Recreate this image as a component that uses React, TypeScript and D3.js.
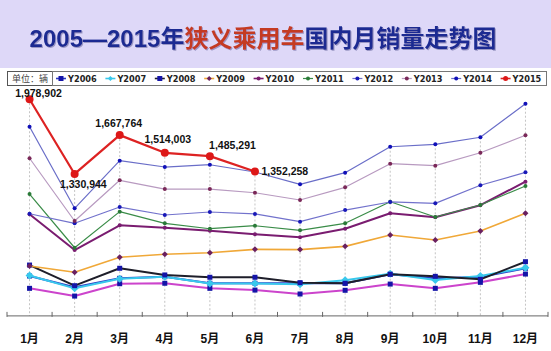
import React from "react";
import * as d3 from "d3";

const W = 551;
const H = 351;

const months = ["1月", "2月", "3月", "4月", "5月", "6月", "7月", "8月", "9月", "10月", "11月", "12月"];

const y2005 = [339000, 272000, 379000, 383000, 339000, 324000, 290000, 322000, 376000, 339000, 391000, 463000];
const y2006 = [446000, 348000, 426000, 440000, 383000, 383000, 383000, 383000, 461000, 426000, 437000, 513000];
const y2007 = [450000, 339000, 422000, 440000, 380000, 380000, 375000, 409000, 466000, 411000, 446000, 518000];
const y2008 = [541000, 362000, 513000, 455000, 435000, 435000, 388000, 383000, 461000, 443000, 417000, 570000];
const y2009 = [533000, 478000, 608000, 634000, 648000, 677000, 675000, 703000, 801000, 758000, 836000, 990000];
const y2010 = [981000, 671000, 886000, 865000, 839000, 808000, 782000, 856000, 990000, 955000, 1060000, 1264000];
const y2011 = [1157000, 691000, 1004000, 903000, 856000, 882000, 842000, 903000, 1090000, 958000, 1062000, 1227000];
const y2012 = [986000, 903000, 1044000, 975000, 1001000, 984000, 917000, 1018000, 1088000, 1076000, 1233000, 1345000];
const y2013 = [1467000, 923000, 1276000, 1200000, 1200000, 1168000, 1105000, 1215000, 1420000, 1403000, 1515000, 1666000];
const y2014 = [1741000, 1033000, 1446000, 1391000, 1411000, 1348000, 1241000, 1342000, 1567000, 1588000, 1649000, 1940000];
const y2015 = [1978902, 1330944, 1667764, 1514003, 1485291, 1352258];

const seriesNames = ["Y2005", "Y2006", "Y2007", "Y2008", "Y2009", "Y2010", "Y2011", "Y2012", "Y2013", "Y2014", "Y2015"];
const seriesValues = [y2005, y2006, y2007, y2008, y2009, y2010, y2011, y2012, y2013, y2014, y2015];
const legendNames = ["Y2006", "Y2007", "Y2008", "Y2009", "Y2010", "Y2011", "Y2012", "Y2013", "Y2014", "Y2015"];

const yDomain = [100000, 2000000];

type Style = { line: string; width: number; shape: "square" | "diamond" | "circle"; mk: string; size: number };
const styles: Record<string, Style> = {
  Y2005: { line: "#cc44cc", width: 2, shape: "square", mk: "#1414a8", size: 5 },
  Y2006: { line: "#2a38c4", width: 2, shape: "square", mk: "#1414a8", size: 5 },
  Y2007: { line: "#38c8ec", width: 2, shape: "diamond", mk: "#38c8ec", size: 8 },
  Y2008: { line: "#1e1e2a", width: 2, shape: "square", mk: "#1414a8", size: 5 },
  Y2009: { line: "#f0a838", width: 1.6, shape: "diamond", mk: "#6a2060", size: 6 },
  Y2010: { line: "#7a1c70", width: 2, shape: "circle", mk: "#7a1c70", size: 4 },
  Y2011: { line: "#3a8c48", width: 1.2, shape: "circle", mk: "#2a7a38", size: 4 },
  Y2012: { line: "#7272cc", width: 1.2, shape: "circle", mk: "#1818b8", size: 4 },
  Y2013: { line: "#b89ac0", width: 1.2, shape: "circle", mk: "#7a2858", size: 4 },
  Y2014: { line: "#6a6ec8", width: 1.2, shape: "circle", mk: "#1010b8", size: 4 },
  Y2015: { line: "#dd2222", width: 2.2, shape: "circle", mk: "#dd1818", size: 8 },
};

const labelDx = [9, 8.7, -1, 3, 22.6, 6.5];
const labelDy = [-2.6, 13.8, -8.6, -10, -7, 3.3];
const labelAnchor = ["middle", "middle", "middle", "middle", "middle", "start"];

function Marker({ x, y, s }: { x: number; y: number; s: Style }) {
  const h = s.size / 2;
  if (s.shape === "square") return <rect x={x - h} y={y - h} width={s.size} height={s.size} fill={s.mk} />;
  if (s.shape === "diamond")
    return <path d={`M${x},${y - h}L${x + h},${y}L${x},${y + h}L${x - h},${y}Z`} fill={s.mk} />;
  return <circle cx={x} cy={y} r={h} fill={s.mk} />;
}

export default function App() {
  const x = d3.scaleBand<string>().domain(months).range([7, 548]).padding(0);
  const cx = (m: string) => (x(m) as number) + x.bandwidth() / 2;
  const y = d3.scaleLinear().domain(yDomain).range([315.9, 96.8]);
  const axisY = y(yDomain[0]);
  const fmt = d3.format(",");

  const line = d3
    .line<number>()
    .x((_, i) => cx(months[i]))
    .y((v) => y(v));

  const maxes = months.map((_, i) => d3.max(seriesValues, (s) => (i < s.length ? s[i] : undefined)) as number);

  const legendX0 = 68;
  const legendStep = 49.4;

  return (
    <svg width={W} height={H} style={{ position: "absolute", left: 0, top: 0, background: "#fff" }}>
      <defs>
        <filter id="tshadow" x="-5%" y="-20%" width="110%" height="150%">
          <feDropShadow dx={1} dy={1} stdDeviation={0.6} floodColor="#8a88b8" floodOpacity={0.8} />
        </filter>
      </defs>
      <rect x={0} y={0} width={W} height={68} fill="#ded8f8" />
      <text
        x={263}
        y={47}
        textAnchor="middle"
        fill="#1c2c92"
        fontFamily="'Liberation Sans', 'Noto Sans CJK SC', sans-serif"
        fontWeight="bold"
        fontSize={24}
        filter="url(#tshadow)"
      >
        <tspan>2005—2015年</tspan>
        <tspan fill="#c43a22">狭义乘用车</tspan>
        <tspan>国内月销量走势图</tspan>
      </text>

      {/* legend */}
      <rect x={7.5} y={71.5} width={45} height={14} fill="#fff" stroke="#555" strokeWidth={1} />
      <text x={30} y={81.5} textAnchor="middle" fontSize={9} fill="#444" fontFamily="'Noto Sans CJK SC', sans-serif">
        单位：辆
      </text>
      <rect x={52.5} y={71.5} width={494} height={14} fill="#fff" stroke="#777" strokeWidth={1} />
      {legendNames.map((n, i) => {
        const tx = legendX0 + i * legendStep;
        const s = styles[n];
        const mid = tx - 7;
        return (
          <g key={n}>
            <line x1={tx - 12} x2={tx - 2} y1={78.5} y2={78.5} stroke={s.line} strokeWidth={Math.min(s.width, 1.6)} />
            <Marker x={mid} y={78.5} s={{ ...s, size: Math.min(s.size, 5) }} />
            <text x={tx} y={81.6} fontSize={8.2} fontWeight="bold" fill="#222" fontFamily="'DejaVu Sans', sans-serif">
              {n}
            </text>
          </g>
        );
      })}

      {/* drop lines */}
      {months.map((m, i) => (
        <line
          key={m}
          x1={cx(m)}
          x2={cx(m)}
          y1={y(maxes[i])}
          y2={axisY}
          stroke="#c4c4c4"
          strokeWidth={1}
          strokeDasharray="2,2"
        />
      ))}

      {/* x axis */}
      <line x1={7} x2={548} y1={axisY} y2={axisY} stroke="#666" strokeWidth={1} />
      {d3.range(months.length + 1).map((k) => {
        const tx = 7 + k * x.bandwidth();
        return <line key={k} x1={tx} x2={tx} y1={axisY - 4} y2={axisY + 1} stroke="#666" strokeWidth={1} />;
      })}
      {months.map((m) => (
        <text
          key={m}
          x={cx(m)}
          y={343}
          textAnchor="middle"
          fontSize={12}
          fontWeight="bold"
          fill="#111"
          fontFamily="'Liberation Sans', 'Noto Sans CJK SC', sans-serif"
        >
          {m}
        </text>
      ))}

      {/* series */}
      {seriesNames.map((n, si) => {
        const s = styles[n];
        const vals = seriesValues[si];
        return (
          <g key={n}>
            <path d={line(vals) as string} fill="none" stroke={s.line} strokeWidth={s.width} strokeLinejoin="round" />
            {vals.map((v, i) => (
              <Marker key={i} x={cx(months[i])} y={y(v)} s={s} />
            ))}
          </g>
        );
      })}

      {/* data labels for 2015 */}
      {y2015.map((v, i) => (
        <text
          key={i}
          x={cx(months[i]) + labelDx[i]}
          y={y(v) + labelDy[i]}
          textAnchor={labelAnchor[i] as any}
          fontSize={10.5}
          fontWeight="bold"
          fill="#111"
          fontFamily="'Liberation Sans', sans-serif"
        >
          {fmt(v)}
        </text>
      ))}
    </svg>
  );
}
